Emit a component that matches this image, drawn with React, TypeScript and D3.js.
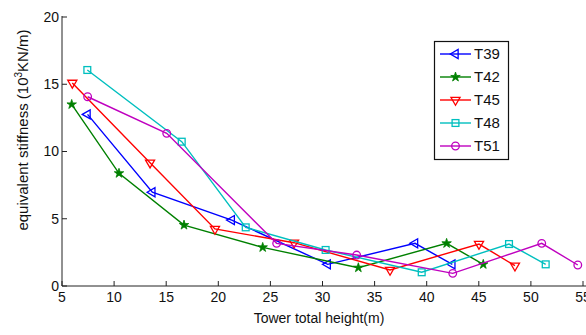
import React from "react";
import * as d3 from "d3";

// Tower total height (m) and equivalent stiffness (10^3 kN/m) per tower type
const t39X = [7.45, 13.67, 21.29, 30.5, 38.88, 42.46];
const t39Y = [12.76, 6.97, 4.9, 1.61, 3.17, 1.61];
const t42X = [5.93, 10.47, 16.71, 24.26, 33.44, 41.91, 45.43];
const t42Y = [13.5, 8.38, 4.53, 2.87, 1.36, 3.17, 1.61];
const t45X = [5.99, 13.45, 19.68, 27.27, 36.48, 45.02, 48.47];
const t45Y = [15.1, 9.17, 4.24, 3.22, 1.19, 3.12, 1.51];
const t48X = [7.43, 16.49, 22.63, 30.3, 39.52, 47.9, 51.42];
const t48Y = [16.06, 10.73, 4.36, 2.68, 1.02, 3.12, 1.61];
const t51X = [7.46, 15.05, 25.6, 33.28, 42.5, 51.04, 54.5];
const t51Y = [14.07, 11.35, 3.17, 2.3, 0.94, 3.17, 1.56];

const seriesNames = ["T39", "T42", "T45", "T48", "T51"];
const xTicks = [5, 10, 15, 20, 25, 30, 35, 40, 45, 50, 55];
const yTicks = [0, 5, 10, 15, 20];

type MarkerKind = "left" | "star" | "down" | "square" | "circle";

const series = [
  { name: seriesNames[0], xs: t39X, ys: t39Y, color: "#0000ff", marker: "left" as MarkerKind },
  { name: seriesNames[1], xs: t42X, ys: t42Y, color: "#008000", marker: "star" as MarkerKind },
  { name: seriesNames[2], xs: t45X, ys: t45Y, color: "#ff0000", marker: "down" as MarkerKind },
  { name: seriesNames[3], xs: t48X, ys: t48Y, color: "#00bfbf", marker: "square" as MarkerKind },
  { name: seriesNames[4], xs: t51X, ys: t51Y, color: "#bf00bf", marker: "circle" as MarkerKind },
];

const W = 586;
const H = 335;
const left = 62;
const right = 583;
const top = 17;
const bottom = 286;

const x = d3.scaleLinear().domain([5, 55]).range([left, right]);
const y = d3.scaleLinear().domain([0, 20]).range([bottom, top]);

const line = d3
  .line<[number, number]>()
  .x((d) => x(d[0]))
  .y((d) => y(d[1]));

function Marker({ kind, cx, cy, color }: { kind: MarkerKind; cx: number; cy: number; color: string }) {
  const sw = 1.3;
  if (kind === "circle") {
    return <circle cx={cx} cy={cy} r={3.8} fill="none" stroke={color} strokeWidth={sw} />;
  }
  if (kind === "square") {
    return <rect x={cx - 3.4} y={cy - 3.4} width={6.8} height={6.8} fill="none" stroke={color} strokeWidth={sw} />;
  }
  if (kind === "star") {
    const p = d3.symbol().type(d3.symbolStar).size(28)();
    return <path d={p || ""} transform={`translate(${cx},${cy})`} fill={color} stroke={color} strokeWidth={0.8} />;
  }
  const tri = d3.symbol().type(d3.symbolTriangle).size(36)();
  const rot = kind === "left" ? -90 : 180;
  return (
    <path d={tri || ""} transform={`translate(${cx},${cy}) rotate(${rot})`} fill="none" stroke={color} strokeWidth={sw} />
  );
}

export default function App() {
  const font = "'Liberation Sans', Arial, Helvetica, sans-serif";
  const legendRows = [54, 77, 100, 123, 146];
  return (
    <svg
      width={W}
      height={H}
      style={{ position: "absolute", left: 0, top: 0, background: "#fff" }}
      fontFamily={font}
    >
      <rect x={0} y={0} width={W} height={H} fill="#fff" />

      {/* axes */}
      <line x1={left} y1={top - 1} x2={left} y2={bottom} stroke="#222" strokeWidth={1} />
      <line x1={left} y1={bottom} x2={W} y2={bottom} stroke="#222" strokeWidth={1} />

      {yTicks.map((t) => (
        <g key={`y${t}`}>
          <line x1={left} x2={left + 5} y1={y(t)} y2={y(t)} stroke="#222" strokeWidth={1} />
          <text x={left - 3} y={y(t)} dy="0.35em" textAnchor="end" fontSize={14} fill="#111">
            {t}
          </text>
        </g>
      ))}
      {xTicks.map((t) => (
        <g key={`x${t}`}>
          <line x1={x(t)} x2={x(t)} y1={bottom} y2={bottom - 5} stroke="#222" strokeWidth={1} />
          <text x={x(t)} y={bottom + 16} textAnchor="middle" fontSize={14} fill="#111">
            {t}
          </text>
        </g>
      ))}

      <text x={319} y={323} textAnchor="middle" fontSize={14} fill="#111">
        Tower total height(m)
      </text>
      <text transform="translate(28,130) rotate(-90)" textAnchor="middle" fontSize={15} fill="#111">
        equivalent stiffness (10
        <tspan fontSize={10} dy={-6}>
          3
        </tspan>
        <tspan dy={6}>KN/m)</tspan>
      </text>

      {/* series */}
      {series.map((s) => {
        const pts: [number, number][] = s.xs.map((v, i) => [v, s.ys[i]]);
        return (
          <g key={s.name}>
            <path d={line(pts) || ""} fill="none" stroke={s.color} strokeWidth={1.4} />
            {pts.map((p, i) => (
              <Marker key={i} kind={s.marker} cx={x(p[0])} cy={y(p[1])} color={s.color} />
            ))}
          </g>
        );
      })}

      {/* legend */}
      <rect x={434.5} y={41.5} width={74} height={118} fill="#fff" stroke="#111" strokeWidth={1.2} />
      {series.map((s, i) => (
        <g key={`lg${s.name}`}>
          <line x1={440} x2={471} y1={legendRows[i]} y2={legendRows[i]} stroke={s.color} strokeWidth={1.4} />
          <Marker kind={s.marker} cx={455.5} cy={legendRows[i]} color={s.color} />
          <text x={474} y={legendRows[i]} dy="0.36em" fontSize={15} fill="#111">
            {s.name}
          </text>
        </g>
      ))}
    </svg>
  );
}
